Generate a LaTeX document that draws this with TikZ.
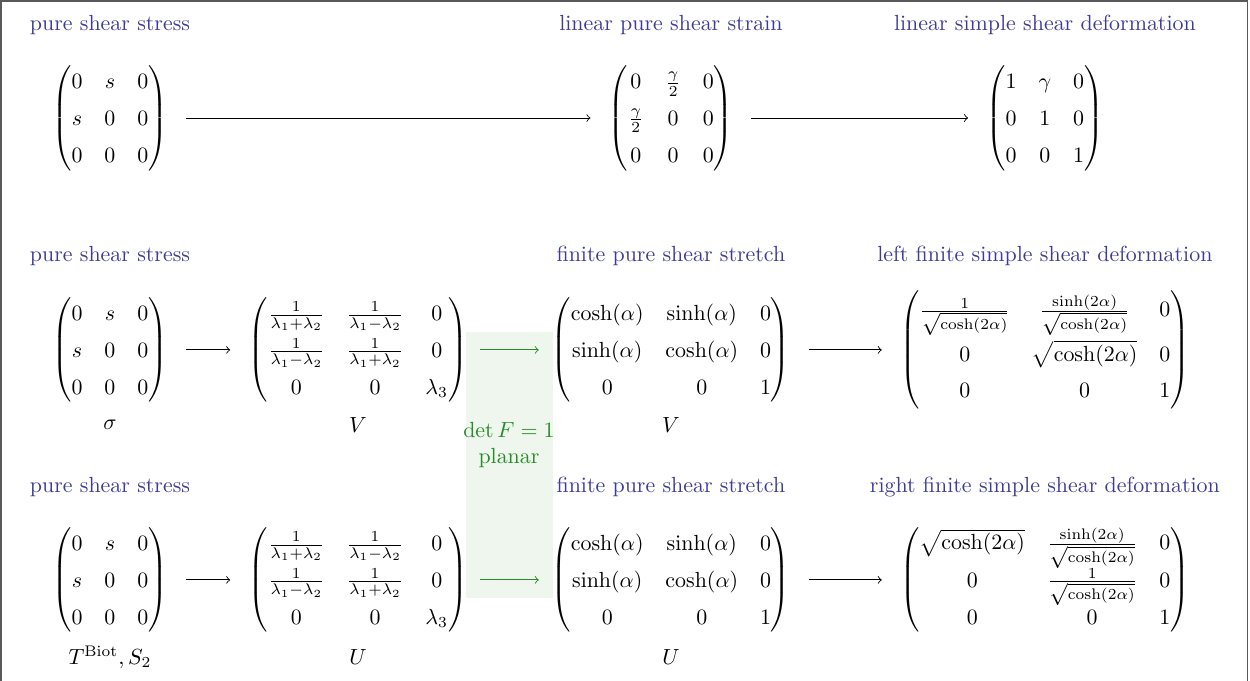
\documentclass[tikz,border=0pt]{standalone}
\usepackage{amsmath}
\usetikzlibrary{math}
\definecolor{myblue}{RGB}{60,60,150}
\definecolor{mygreen}{RGB}{40,140,40}
\renewcommand{\arraystretch}{1.4}
\tikzset{
  title/.style={text=myblue, inner sep=0pt},
  mat/.style={inner sep=0pt},
  map/.style={->, shorten <=0.29cm, shorten >=0.29cm},
  planarmap/.style={->, mygreen, shorten <=0.2cm, shorten >=0.2cm}
}

\begin{document}
\begin{tikzpicture}
\tikzmath{
\W=20.05;
\H=10.92;
\xa=1.764;
\xb=5.742;
\xc=10.762;
\xd=16.76;
\ta=-0.40;
\tb=-4.106;
\tc=-7.811;
\ma=-1.893;
\mb=-5.613;
\mc=-9.302;
\lb=-6.816;
\lc=-10.537;
}

\useasboundingbox (0,0) rectangle (\W,-\H);
\clip (0,0) rectangle (\W,-\H);
\draw[black!65, line width=0.7pt] (0.02,-0.02) rectangle (\W-0.04,-\H-1);

\fill[mygreen!8] (7.474,-5.325) rectangle (8.869,-9.591);
\node[text=mygreen, align=center, inner sep=0pt] (detF) at (8.164,-7.137) {$\det F = 1$\\planar};

\node[title] (tLin1) at (\xa,\ta) {pure shear stress};
\node[title] (tLin3) at (\xc,\ta) {linear pure shear strain};
\node[title] (tLin4) at (\xd,\ta) {linear simple shear deformation};

\node[mat] (sigmaLin) at (\xa,\ma) {$\begin{pmatrix} 0 & s & 0\\ s & 0 & 0\\ 0 & 0 & 0 \end{pmatrix}$};
\node[mat] (strainLin) at (\xc,\ma) {$\begin{pmatrix} 0 & \frac{\gamma}{2} & 0\\ \frac{\gamma}{2} & 0 & 0\\ 0 & 0 & 0 \end{pmatrix}$};
\node[mat] (defLin) at (\xd,\ma) {$\begin{pmatrix} 1 & \gamma & 0\\ 0 & 1 & 0\\ 0 & 0 & 1 \end{pmatrix}$};

\draw[map] (sigmaLin) -- (strainLin);
\draw[map] (strainLin) -- (defLin);

\node[title] (tLeft1) at (\xa,\tb) {pure shear stress};
\node[title] (tLeft3) at (\xc,\tb) {finite pure shear stretch};
\node[title] (tLeft4) at (\xd,\tb) {left finite simple shear deformation};

\node[mat] (sigmaLeft) at (\xa,\mb) {$\begin{pmatrix} 0 & s & 0\\ s & 0 & 0\\ 0 & 0 & 0 \end{pmatrix}$};
\node[mat] (lambdaV) at (\xb,\mb) {$\begin{pmatrix} \frac{1}{\lambda_1+\lambda_2} & \frac{1}{\lambda_1-\lambda_2} & 0\\ \frac{1}{\lambda_1-\lambda_2} & \frac{1}{\lambda_1+\lambda_2} & 0\\ 0 & 0 & \lambda_3 \end{pmatrix}$};
\node[mat] (stretchV) at (\xc,\mb) {$\begin{pmatrix} \cosh(\alpha) & \sinh(\alpha) & 0\\ \sinh(\alpha) & \cosh(\alpha) & 0\\ 0 & 0 & 1 \end{pmatrix}$};
\node[mat] (defLeft) at (\xd,\mb) {$\begin{pmatrix} \frac{1}{\sqrt{\cosh(2\alpha)}} & \frac{\sinh(2\alpha)}{\sqrt{\cosh(2\alpha)}} & 0\\ 0 & \sqrt{\cosh(2\alpha)} & 0\\ 0 & 0 & 1 \end{pmatrix}$};

\node (sigmaLeftName) at (\xa,\lb) {$\sigma$};
\node (lambdaVName) at (\xb,\lb) {$V$};
\node (stretchVName) at (\xc,\lb) {$V$};

\draw[map] (sigmaLeft) -- (lambdaV);
\draw[planarmap] (lambdaV) -- (stretchV);
\draw[map] (stretchV) -- (defLeft);

\node[title] (tRight1) at (\xa,\tc) {pure shear stress};
\node[title] (tRight3) at (\xc,\tc) {finite pure shear stretch};
\node[title] (tRight4) at (\xd,\tc) {right finite simple shear deformation};

\node[mat] (sigmaRight) at (\xa,\mc) {$\begin{pmatrix} 0 & s & 0\\ s & 0 & 0\\ 0 & 0 & 0 \end{pmatrix}$};
\node[mat] (lambdaU) at (\xb,\mc) {$\begin{pmatrix} \frac{1}{\lambda_1+\lambda_2} & \frac{1}{\lambda_1-\lambda_2} & 0\\ \frac{1}{\lambda_1-\lambda_2} & \frac{1}{\lambda_1+\lambda_2} & 0\\ 0 & 0 & \lambda_3 \end{pmatrix}$};
\node[mat] (stretchU) at (\xc,\mc) {$\begin{pmatrix} \cosh(\alpha) & \sinh(\alpha) & 0\\ \sinh(\alpha) & \cosh(\alpha) & 0\\ 0 & 0 & 1 \end{pmatrix}$};
\node[mat] (defRight) at (\xd,\mc) {\renewcommand{\arraystretch}{1}$\begin{pmatrix} \sqrt{\cosh(2\alpha)} & \frac{\sinh(2\alpha)}{\sqrt{\cosh(2\alpha)}} & 0\\ 0 & \frac{1}{\sqrt{\cosh(2\alpha)}} & 0\\ 0 & 0 & 1 \end{pmatrix}$};

\node (sigmaRightName) at (\xa,\lc) {$T^{\mathrm{Biot}}, S_2$};
\node (lambdaUName) at (\xb,\lc) {$U$};
\node (stretchUName) at (\xc,\lc) {$U$};

\draw[map] (sigmaRight) -- (lambdaU);
\draw[planarmap] (lambdaU) -- (stretchU);
\draw[map] (stretchU) -- (defRight);

\end{tikzpicture}
\end{document}
